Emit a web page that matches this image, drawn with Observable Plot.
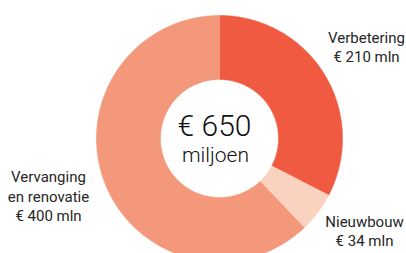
<!DOCTYPE html>
<html>
<head>
<meta charset="utf-8">
<script src="https://cdn.jsdelivr.net/npm/d3@7"></script>
<script src="https://cdn.jsdelivr.net/npm/@observablehq/plot@0.6"></script>
<style>
  html, body { margin: 0; padding: 0; background: #fff; }
  #chart svg { display: block; }
</style>
</head>
<body>
<div id="chart"></div>
<script>
// ---- data ----
const categories = ["Verbetering", "Nieuwbouw", "Vervanging en renovatie"];
const values = [210, 34, 400];
const labelTexts = ["Verbetering\n€ 210 mln", "Nieuwbouw\n€ 34 mln", "Vervanging\nen renovatie\n€ 400 mln"];
const totalText = ["€ 650", "miljoen"];

// ---- styling / layout ----
const colors = ["#ef5a40", "#fbd1bf", "#f4987b"];
const W = 406, H = 253;
const cx = 219, cy = 138;           // donut centre in pixels
const outerR = 123, innerR = 59;
const labelPos = [[147, 92.5], [145, -92], [-171, -57]]; // relative to centre (y up)

// ---- build annular sector polygons from the values ----
const pie = d3.pie().sort(null).value(d => d)(values);
const pts = [];
pie.forEach((p, i) => {
  const n = Math.max(8, Math.ceil((p.endAngle - p.startAngle) / 0.01));
  for (let k = 0; k <= n; k++) {
    const a = p.startAngle + (p.endAngle - p.startAngle) * k / n;
    pts.push({cat: categories[i], x: outerR * Math.sin(a), y: outerR * Math.cos(a)});
  }
  for (let k = n; k >= 0; k--) {
    const a = p.startAngle + (p.endAngle - p.startAngle) * k / n;
    pts.push({cat: categories[i], x: innerR * Math.sin(a), y: innerR * Math.cos(a)});
  }
});

const labels = categories.map((c, i) => ({cat: c, text: labelTexts[i], x: labelPos[i][0], y: labelPos[i][1]}));

const chart = Plot.plot({
  width: W,
  height: H,
  margin: 0,
  style: {fontFamily: "Roboto, 'Noto Sans', sans-serif", background: "#fff"},
  x: {domain: [-cx, W - cx], axis: null},
  y: {domain: [-(H - cy), cy], axis: null},
  color: {domain: categories, range: colors},
  marks: [
    Plot.line(pts, {x: "x", y: "y", z: "cat", fill: "cat", stroke: "cat", strokeWidth: 0.6, curve: "linear"}),
    Plot.text(labels, {x: "x", y: "y", text: "text", fontSize: 15, lineHeight: 1.3, fill: "#262626", textAnchor: "middle", lineAnchor: "middle"}),
    Plot.text([totalText[0]], {x: [-5], y: [12], text: d => d, fontSize: 30, fontWeight: 300, fill: "#111", textAnchor: "middle", lineAnchor: "middle"}),
    Plot.text([totalText[1]], {x: [-4], y: [-17], text: d => d, fontSize: 21, fontWeight: 300, fill: "#111", textAnchor: "middle", lineAnchor: "middle"})
  ]
});
document.getElementById("chart").appendChild(chart);
</script>
</body>
</html>
